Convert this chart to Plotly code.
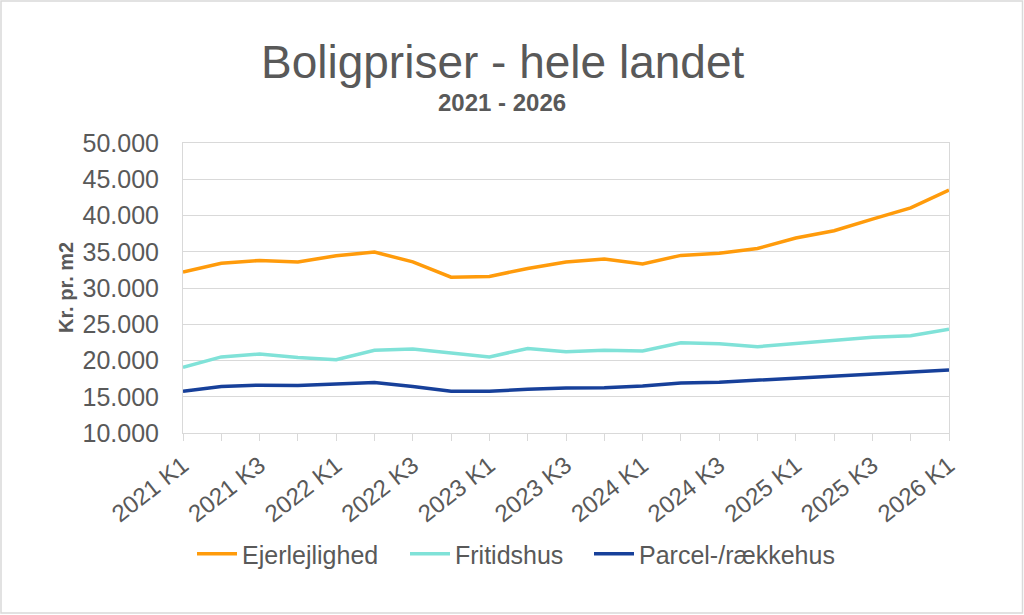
import plotly.graph_objects as go

# ------------------ DATA ------------------
quarters = [
    "2021 K1", "2021 K2", "2021 K3", "2021 K4",
    "2022 K1", "2022 K2", "2022 K3", "2022 K4",
    "2023 K1", "2023 K2", "2023 K3", "2023 K4",
    "2024 K1", "2024 K2", "2024 K3", "2024 K4",
    "2025 K1", "2025 K2", "2025 K3", "2025 K4",
    "2026 K1",
]
ejerlejlighed = [32200, 33400, 33800, 33600, 34450, 34950, 33600, 31500, 31600, 32700, 33600,
                 34000, 33300, 34500, 34800, 35450, 36900, 37900, 39500, 41050, 43500]
fritidshus = [19050, 20500, 20900, 20400, 20100, 21400, 21600, 21050, 20500, 21650, 21200,
              21400, 21300, 22450, 22300, 21900, 22300, 22800, 23200, 23400, 24300]
parcelhus = [15750, 16400, 16600, 16550, 16750, 16950, 16400, 15750, 15750, 16050, 16200,
             16250, 16500, 16900, 17000, 17300, 17500, 17900, 18100, 18500, 18700]
tick_labels = [q if q.endswith(("K1", "K3")) else "" for q in quarters]

series = [
    ("Ejerlejlighed", ejerlejlighed, "#FF9B0B"),
    ("Fritidshus", fritidshus, "#80E2D8"),
    ("Parcel-/rækkehus", parcelhus, "#17409A"),
]

# ------------------ STYLE ------------------
FONT = "Liberation Sans"
TXT = "#595959"
GRID = "#D9D9D9"
W, H = 1024, 615
L, R, T, B = 183, 75, 143, 182
PW, PH = W - L - R, H - T - B


def px_x(x):
    return (x - L) / PW


def px_y(y):
    return (H - B - y) / PH


fig = go.Figure()

legend_ids = ["legend", "legend2", "legend3"]
for (name, vals, col), lg in zip(series, legend_ids):
    fig.add_trace(go.Scatter(
        x=quarters, y=vals, name=name, mode="lines",
        line=dict(color=col, width=3.5), legend=lg,
    ))

# ------------------ TITLES ------------------
fig.add_annotation(text="Boligpriser - hele landet", xref="paper", yref="paper",
                   x=px_x(502), y=px_y(62), showarrow=False,
                   xanchor="center", yanchor="middle",
                   font=dict(family=FONT, size=46, color=TXT))
fig.add_annotation(text="<b>2021 - 2026</b>", xref="paper", yref="paper",
                   x=px_x(502), y=px_y(103), showarrow=False,
                   xanchor="center", yanchor="middle",
                   font=dict(family=FONT, size=24, color=TXT))
fig.add_annotation(text="<b>Kr. pr. m2</b>", xref="paper", yref="paper",
                   x=px_x(66), y=px_y(287), showarrow=False,
                   textangle=-90, xanchor="center", yanchor="middle",
                   font=dict(family=FONT, size=20, color=TXT))

# outer frame
fig.add_shape(type="rect", xref="paper", yref="paper",
              x0=px_x(1), x1=px_x(W - 1.5),
              y0=px_y(H - 2), y1=px_y(1),
              line=dict(color=GRID, width=1.5), layer="below")

# ------------------ LEGENDS (one per series, placed by hand) ------------------
LEG = dict(orientation="h", yanchor="middle", y=px_y(554), xanchor="left",
           font=dict(family=FONT, size=25, color=TXT), itemwidth=40,
           bgcolor="rgba(0,0,0,0)")

# ------------------ LAYOUT ------------------
fig.update_layout(
    width=W, height=H,
    margin=dict(l=L, r=R, t=T, b=B),
    paper_bgcolor="white", plot_bgcolor="white",
    separators=",.",
    font=dict(family=FONT, size=24, color=TXT),
    showlegend=True,
    legend=dict(**LEG, x=px_x(192)),
    legend2=dict(**LEG, x=px_x(405)),
    legend3=dict(**LEG, x=px_x(589)),
    xaxis=dict(
        type="category", range=[0, len(quarters) - 1],
        tickmode="array", tickvals=quarters, ticktext=tick_labels,
        tickangle=-38, ticks="outside", ticklen=7, tickcolor=GRID,
        showline=True, linecolor=GRID, linewidth=1, mirror=True,
        showgrid=False, ticklabelstandoff=1,
        tickfont=dict(size=24, color=TXT),
    ),
    yaxis=dict(
        range=[10000, 50000], dtick=5000, tickformat=",d",
        showgrid=True, gridcolor=GRID, gridwidth=1,
        showline=True, linecolor=GRID, linewidth=1, mirror=True,
        zeroline=False, ticklabelstandoff=18,
        tickfont=dict(size=25, color=TXT),
    ),
)

fig.write_html("out.html", config={"displayModeBar": False},
               post_script="document.body.style.margin='0';")
